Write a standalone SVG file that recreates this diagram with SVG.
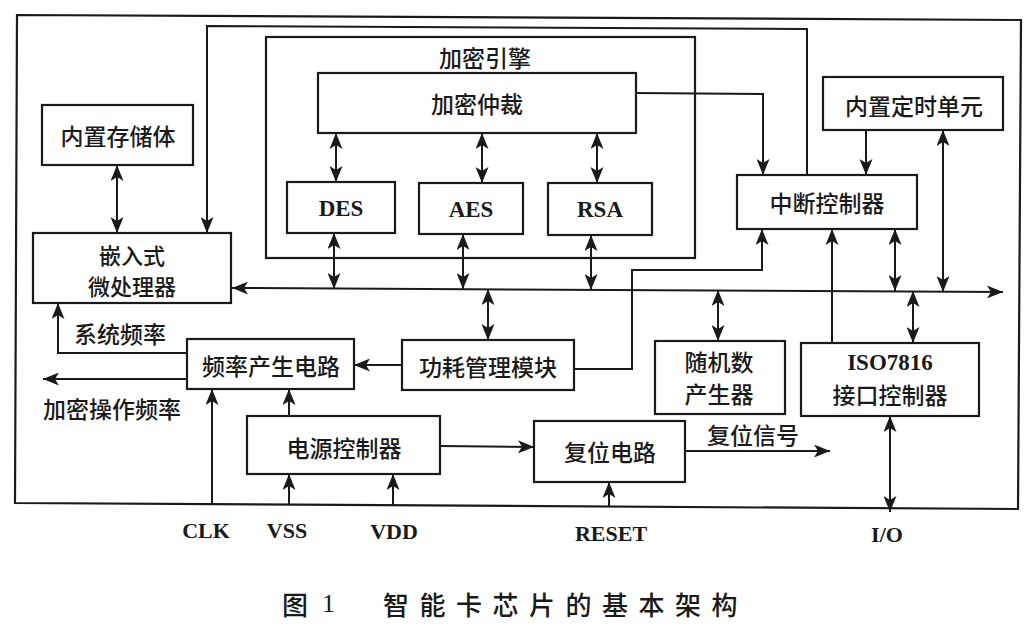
<svg xmlns="http://www.w3.org/2000/svg" width="1034" height="629" viewBox="0 0 1034 629">
<style>
.box{fill:none;stroke:#1a1a1a;stroke-width:2.2}
.ln{fill:none;stroke:#1a1a1a;stroke-width:2}
.zh{font-family:"Noto Sans CJK SC","Noto Sans",sans-serif;font-size:23px;font-weight:500;fill:#1a1a1a;text-anchor:middle;dominant-baseline:central}
.en{font-family:"Liberation Serif","DejaVu Serif",serif;font-size:23px;font-weight:bold;fill:#1a1a1a;text-anchor:middle;dominant-baseline:central}
.ttl{font-family:"Noto Sans CJK SC",sans-serif;font-size:26px;font-weight:500;fill:#1a1a1a;dominant-baseline:central}
</style>
<defs>
<marker id="a" viewBox="0 0 16 13" refX="16" refY="6.5" markerWidth="16" markerHeight="13" markerUnits="userSpaceOnUse" orient="auto-start-reverse">
<path d="M0,0 L16,6.5 L0,13 L4,6.5 z" fill="#1a1a1a"/>
</marker>
</defs>
<rect width="1034" height="629" fill="#ffffff"/>
<polygon class="box" points="17,15 1021,20 1018,509 15,503"/>

<g id="engine">
<rect class="box" x="266" y="37" width="429" height="221"/>
<text class="zh" x="485" y="57">加密引擎</text>
</g>
<g id="arbiter">
<rect class="box" x="318" y="73" width="318" height="60"/>
<text class="zh" x="477" y="103">加密仲裁</text>
</g>
<g id="des">
<rect class="box" x="287" y="182" width="108" height="51"/>
<text class="en" x="341" y="208">DES</text>
</g>
<g id="aes">
<rect class="box" x="419" y="183" width="104" height="51"/>
<text class="en" x="471" y="209">AES</text>
</g>
<g id="rsa">
<rect class="box" x="548" y="183" width="104" height="52"/>
<text class="en" x="600" y="209">RSA</text>
</g>
<g id="memory">
<rect class="box" x="42" y="105" width="151" height="60"/>
<text class="zh" x="118" y="135">内置存储体</text>
</g>
<g id="cpu">
<rect class="box" x="33" y="233" width="198" height="70"/>
<text class="zh" x="132" y="254" style="font-size:22px">嵌入式</text>
<text class="zh" x="132" y="285" style="font-size:22px">微处理器</text>
</g>
<g id="timer">
<rect class="box" x="823" y="77" width="180" height="53"/>
<text class="zh" x="914" y="105">内置定时单元</text>
</g>
<g id="irq">
<rect class="box" x="737" y="175" width="180" height="54"/>
<text class="zh" x="827" y="202">中断控制器</text>
</g>
<g id="freq">
<rect class="box" x="187" y="339" width="167" height="50"/>
<text class="zh" x="271" y="365">频率产生电路</text>
</g>
<g id="power-mgmt">
<rect class="box" x="402" y="340" width="172" height="50"/>
<text class="zh" x="488" y="366">功耗管理模块</text>
</g>
<g id="rng">
<rect class="box" x="655" y="341" width="130" height="73"/>
<text class="zh" x="719" y="361">随机数</text>
<text class="zh" x="719" y="393">产生器</text>
</g>
<g id="iso">
<rect class="box" x="801" y="343" width="178" height="73"/>
<text class="en" x="890" y="362">ISO7816</text>
<text class="zh" x="890" y="394">接口控制器</text>
</g>
<g id="psu">
<rect class="box" x="247" y="416" width="193" height="58"/>
<text class="zh" x="344" y="447">电源控制器</text>
</g>
<g id="reset">
<rect class="box" x="534" y="421" width="151" height="61"/>
<text class="zh" x="610" y="451">复位电路</text>
</g>

<g id="connectors">
<line class="ln" x1="117" y1="165" x2="117" y2="233" marker-start="url(#a)" marker-end="url(#a)"/>
<polyline class="ln" points="807,175 807,29 207,26 207,233" marker-end="url(#a)"/>
<line class="ln" x1="336" y1="133" x2="336" y2="182" marker-start="url(#a)" marker-end="url(#a)"/>
<line class="ln" x1="482" y1="133" x2="482" y2="183" marker-start="url(#a)" marker-end="url(#a)"/>
<line class="ln" x1="597" y1="133" x2="597" y2="183" marker-start="url(#a)" marker-end="url(#a)"/>
<line class="ln" x1="334" y1="233" x2="334" y2="289" marker-start="url(#a)" marker-end="url(#a)"/>
<line class="ln" x1="463" y1="234" x2="463" y2="289" marker-start="url(#a)" marker-end="url(#a)"/>
<line class="ln" x1="591" y1="235" x2="591" y2="290" marker-start="url(#a)" marker-end="url(#a)"/>
<line class="ln" x1="232" y1="288" x2="1003" y2="292" marker-start="url(#a)" marker-end="url(#a)"/>
<polyline class="ln" points="636,93 763,94 763,175" marker-end="url(#a)"/>
<polyline class="ln" points="574,369 632,369 632,270 762,270 762,229" marker-end="url(#a)"/>
<line class="ln" x1="866" y1="130" x2="866" y2="175" marker-end="url(#a)"/>
<line class="ln" x1="943" y1="130" x2="943" y2="292" marker-start="url(#a)" marker-end="url(#a)"/>
<line class="ln" x1="895" y1="229" x2="895" y2="291" marker-start="url(#a)" marker-end="url(#a)"/>
<line class="ln" x1="832" y1="343" x2="832" y2="229" marker-end="url(#a)"/>
<line class="ln" x1="913" y1="343" x2="913" y2="291" marker-start="url(#a)" marker-end="url(#a)"/>
<line class="ln" x1="718" y1="341" x2="718" y2="290" marker-start="url(#a)" marker-end="url(#a)"/>
<line class="ln" x1="488" y1="340" x2="488" y2="289" marker-start="url(#a)" marker-end="url(#a)"/>
<line class="ln" x1="402" y1="365" x2="354" y2="365" marker-end="url(#a)"/>
<polyline class="ln" points="187,353 58,353 58,303" marker-end="url(#a)"/>
<line class="ln" x1="187" y1="379" x2="43" y2="379" marker-end="url(#a)"/>
<line class="ln" x1="212" y1="504" x2="212" y2="389" marker-end="url(#a)"/>
<line class="ln" x1="289" y1="416" x2="289" y2="389" marker-end="url(#a)"/>
<line class="ln" x1="289" y1="504" x2="289" y2="474" marker-end="url(#a)"/>
<line class="ln" x1="393" y1="505" x2="393" y2="474" marker-end="url(#a)"/>
<line class="ln" x1="440" y1="446" x2="534" y2="447" marker-end="url(#a)"/>
<line class="ln" x1="609" y1="507" x2="609" y2="482" marker-end="url(#a)"/>
<line class="ln" x1="685" y1="451" x2="830" y2="451" marker-end="url(#a)"/>
<line class="ln" x1="890" y1="416" x2="890" y2="512" marker-start="url(#a)" marker-end="url(#a)"/>
</g>

<g id="labels">
<text class="zh" x="120" y="333">系统频率</text>
<text class="zh" x="112" y="408">加密操作频率</text>
<text class="zh" x="753" y="434">复位信号</text>
<text class="en" x="206" y="530" style="font-size:22px">CLK</text>
<text class="en" x="287" y="530" style="font-size:22px">VSS</text>
<text class="en" x="394" y="531" style="font-size:22px">VDD</text>
<text class="en" x="611" y="533" style="font-size:22px">RESET</text>
<text class="en" x="887" y="534" style="font-size:22px">I/O</text>
</g>
<g id="title">
<text class="ttl" x="282" y="603">图</text>
<text class="ttl" x="322" y="603" style="font-family:'Liberation Serif',serif">1</text>
<text class="ttl" x="383" y="603" style="letter-spacing:10.5px">智能卡芯片的基本架构</text>
</g>
</svg>
